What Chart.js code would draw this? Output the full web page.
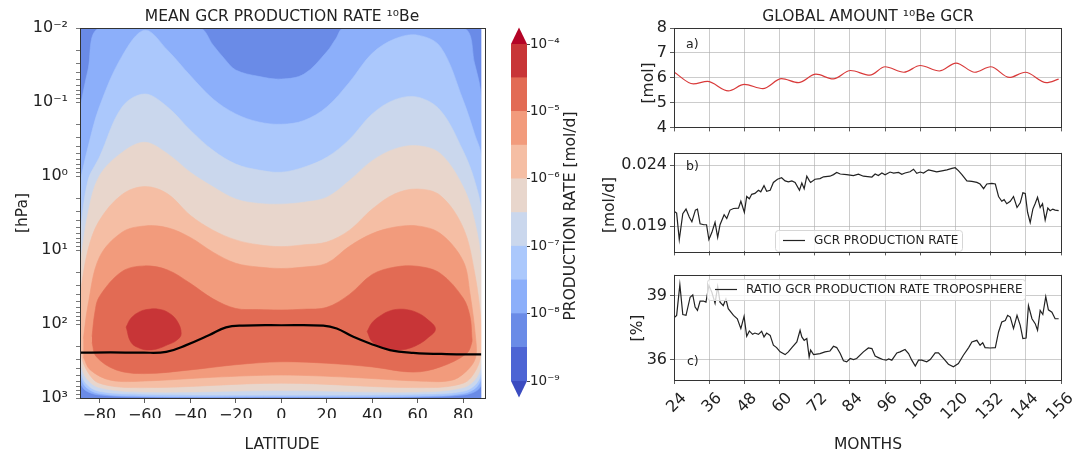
<!DOCTYPE html>
<html>
<head>
<meta charset="utf-8">
<script src="https://cdn.jsdelivr.net/npm/chart.js@4.4.1/dist/chart.umd.min.js"></script>
<style>
  body { margin: 0; background: #fff; width: 1088px; height: 454px; overflow: hidden; position: relative; }
  .box { position: absolute; }
</style>
</head>
<body>
<div class="box" style="left:0;top:0;width:490px;height:454px"><canvas id="contour"></canvas></div>
<div class="box" style="left:490px;top:0;width:110px;height:454px"><canvas id="cbar"></canvas></div>
<div class="box" style="left:600px;top:0;width:488px;height:140px"><canvas id="pa"></canvas></div>
<div class="box" style="left:600px;top:140px;width:488px;height:124px"><canvas id="pb"></canvas></div>
<div class="box" style="left:600px;top:262px;width:488px;height:192px"><canvas id="pc"></canvas></div>
<script>
// ---- contour data (latitude in deg, pressure in hPa) ----
const lat = [-88.5, -85, -80, -70, -60, -50, -40, -30, -20, -10, 0, 10, 20, 30, 40, 50, 60, 70, 80, 85, 88];
const latLow = [-88.5, -86, -80, -60, 0, 60, 80, 86, 88];

const lat1e8 = [-88.5, -85, -80, -36, -30, -25, -20, -10, 0, 10, 20, 24, 27.5, 80, 85, 88];
const top1e8 = [0.12, 0.037, 0.01, 0.01, 0.017, 0.026, 0.037, 0.045, 0.049, 0.042, 0.021, 0.014, 0.01, 0.01, 0.03, 0.095];
const bot1e8 = [631, 794, 912, 966, 977, 966, 912, 794, 631];

const top3e8 = [1.2, 0.41, 0.117, 0.024, 0.0107, 0.020, 0.044, 0.091, 0.145, 0.186, 0.20, 0.178, 0.117, 0.054, 0.022, 0.014, 0.0125, 0.018, 0.095, 0.27, 0.56];
const bot3e8 = [501, 708, 871, 944, 955, 944, 871, 708, 501];

const top1e7 = [6, 1.15, 0.56, 0.117, 0.078, 0.117, 0.24, 0.45, 0.69, 0.83, 0.89, 0.76, 0.56, 0.32, 0.145, 0.093, 0.086, 0.13, 0.46, 1.15, 3.2];
const bot1e7 = [398, 631, 813, 891, 912, 891, 813, 631, 398];

const top3e7 = [16, 3.2, 1.0, 0.48, 0.35, 0.50, 0.89, 1.4, 2.05, 2.35, 2.4, 2.26, 1.94, 1.15, 0.62, 0.43, 0.39, 0.50, 1.4, 4, 16];
const bot3e7 = [316, 525, 724, 832, 794, 832, 724, 525, 316];

const top1e6 = [40, 10, 4, 1.78, 1.39, 1.74, 3.4, 5.4, 7.3, 8.5, 9.0, 8.5, 7.8, 5.4, 2.8, 1.74, 1.5, 1.84, 5, 20, 100];
const bot1e6 = [224, 398, 631, 724, 631, 724, 631, 398, 224];

const lat3e6 = [-87, -85, -80, -70, -60, -50, -40, -30, -20, -10, 0, 10, 20, 30, 40, 50, 60, 70, 80, 83, 85.5];
const top3e6 = [158, 56, 12.6, 5.75, 4.73, 5.0, 6.76, 10.7, 15.1, 17, 17.8, 17, 15.1, 8.9, 6.0, 4.9, 4.73, 6.0, 14.1, 38.9, 158];
const latLow3e6 = [-87, -84, -75, -60, -30, 0, 30, 60, 75, 82, 85.5];
const bot3e6 = [282, 417, 575, 589, 525, 490, 525, 589, 575, 417, 282];

const lat1e5 = [-83.2, -82, -80, -70, -60, -50, -40, -30, -20, -10, 0, 10, 20, 30, 40, 50, 60, 70, 80, 83, 83.8];
const top1e5 = [148, 71, 42.7, 19.5, 16.4, 18.6, 28.2, 45.7, 61.7, 63.8, 64.6, 63.1, 59.6, 39.8, 21.4, 17.0, 16.6, 20.7, 44.7, 79.4, 148];
const latLow1e5 = [-83.2, -81.4, -72.6, -60, -40, -20, 0, 20, 40, 58, 70, 81.5, 83.8];
const bot1e5 = [178, 275, 417, 468, 417, 355, 324, 339, 380, 447, 380, 251, 178];

const latBlobS = [-68.2, -66, -62, -58, -54, -50, -46, -44];
const topBlobS = [110, 83, 67.6, 63.1, 63.1, 69.2, 89.1, 135];
const botBlobS = [110, 178, 214, 224, 214, 191, 166, 135];
const latBlobN = [37.8, 40, 44, 48, 52, 56, 60, 64, 67.8];
const topBlobN = [126, 95.5, 75.9, 66.1, 63.1, 64.6, 70.8, 85.1, 117];
const botBlobN = [126, 174, 204, 219, 224, 214, 191, 158, 117];

const tropLat = [-88.5, -75, -60.9, -50.6, -41.8, -31.6, -24.3, -16.9, 0, 18.5, 24.4, 31.7, 39, 47.8, 58, 72.7, 88];
const tropP = [244, 242, 244, 238, 193, 141, 111, 105, 104, 105, 115, 149, 183, 225, 245, 255, 257];

const latTicks = [-80, -60, -40, -20, 0, 20, 40, 60, 80];
const pressureTicks = [0.01, 0.1, 1, 10, 100, 1000];

// colour bar levels (mol/d) and band colours
const cbLevels = [1e-9, 3.16e-9, 1e-8, 3.16e-8, 1e-7, 3.16e-7, 1e-6, 3.16e-6, 1e-5, 3.16e-5, 1e-4];
const cbTicks = [1e-9, 1e-8, 1e-7, 1e-6, 1e-5, 1e-4];
const bandColors = ["#4d64d4", "#6a8be7", "#8cafFa", "#abc8fc", "#cad7ed", "#e8d6cc", "#f5bea4", "#f29b7c", "#e26b54", "#c83537"];
const underColor = "#3b4cc0";
const overColor = "#b40426";

// ---- time series ----
const monthTicks = [24, 36, 48, 60, 72, 84, 96, 108, 120, 132, 144, 156];

const monthsA = [24, 30.6, 35.4, 42.5, 48, 54.3, 60.7, 66.4, 72.4, 78.3, 84.2, 90.8, 96, 102.4, 108, 114.5, 120.2, 126.6, 132, 138.4, 143.8, 151, 155.2];
const amountA = [6.23, 5.75, 5.85, 5.47, 5.73, 5.56, 5.96, 5.80, 6.14, 5.95, 6.29, 6.10, 6.44, 6.22, 6.49, 6.27, 6.59, 6.22, 6.44, 6.01, 6.22, 5.80, 5.94];

const monthsB = [24.0, 24.9, 25.8, 27.0, 28.1, 29.2, 30.1, 31.3, 32.0, 32.9, 34.2, 35.1, 35.9, 36.9, 38.0, 38.9, 39.7, 41.1, 42.0, 43.1,
  44.3, 46.0, 46.8, 48.0, 48.8, 49.7, 50.5, 51.6, 52.8, 53.6, 54.7, 55.6, 56.8, 57.9, 59.3, 60.7, 61.9, 63.0, 64.2, 65.3,
  66.8, 67.6, 68.4, 69.3, 70.2, 70.6, 72.1, 73.8, 75.0, 77.2, 78.4, 79.5, 80.7, 82.9, 85.2, 86.9, 88.6, 91.5, 92.6, 93.7,
  94.9, 96.0, 97.7, 98.9, 100.6, 101.7, 102.8, 104.5, 105.7, 106.8, 108.0, 109.1, 110.8, 111.9, 113.6, 115.4, 117.1, 118.8, 119.9, 121.0,
  122.2, 123.9, 125.6, 127.3, 128.4, 129.6, 130.7, 132.4, 133.6, 134.7, 135.8, 136.6, 137.5, 138.7, 139.8, 141.0, 142.1, 143.0, 143.8, 144.6,
  145.5, 146.4, 147.2, 148.0, 148.9, 149.7, 150.6, 151.5, 152.3, 153.2, 154.0, 155.2];
const rateB = [0.02023, 0.02008, 0.01792, 0.02003, 0.02041, 0.01977, 0.01938, 0.02033, 0.02041, 0.01921, 0.01913, 0.01913, 0.01792, 0.01849, 0.01933, 0.01810, 0.01913, 0.01995, 0.01964, 0.02033,
  0.02046, 0.02049, 0.02105, 0.02015, 0.02144, 0.02126, 0.02162, 0.02169, 0.02195, 0.02182, 0.02233, 0.02187, 0.02195, 0.02259, 0.02285, 0.02297, 0.02272, 0.02264, 0.02272, 0.02259,
  0.02195, 0.02254, 0.02208, 0.02310, 0.02272, 0.02259, 0.02285, 0.02290, 0.02305, 0.02310, 0.02323, 0.02341, 0.02328, 0.02323, 0.02315, 0.02326, 0.02310, 0.02303, 0.02328, 0.02315,
  0.02336, 0.02321, 0.02344, 0.02336, 0.02341, 0.02326, 0.02336, 0.02346, 0.02367, 0.02333, 0.02344, 0.02336, 0.02362, 0.02356, 0.02346, 0.02354, 0.02362, 0.02374, 0.02379, 0.02356,
  0.02323, 0.02272, 0.02267, 0.02259, 0.02246, 0.02208, 0.02246, 0.02251, 0.02246, 0.02144, 0.02105, 0.02118, 0.02085, 0.02105, 0.02144, 0.02054, 0.02092, 0.02174, 0.02169, 0.02015,
  0.01931, 0.02041, 0.02087, 0.02138, 0.02054, 0.02085, 0.01951, 0.02049, 0.02028, 0.02041, 0.02033, 0.02028];

const monthsC = [24.0, 24.9, 26.0, 27.0, 28.1, 29.5, 30.4, 31.2, 32.0, 32.9, 34.0, 34.9, 35.9, 36.9, 38.0, 38.9, 39.7, 40.8, 41.7, 42.5,
  44.3, 45.6, 46.8, 47.9, 48.8, 49.7, 50.8, 51.6, 52.8, 53.9, 54.7, 55.6, 56.8, 57.9, 59.0, 60.2, 61.9, 63.0, 64.2, 65.9,
  67.0, 67.6, 68.4, 69.3, 70.1, 70.6, 71.6, 73.8, 75.5, 77.2, 78.4, 79.5, 80.7, 81.8, 82.9, 84.1, 85.2, 86.3, 88.6, 90.3,
  91.5, 92.6, 93.7, 95.2, 96.4, 97.2, 98.3, 100.0, 101.1, 102.8, 104.0, 105.1, 106.3, 107.4, 108.5, 110.2, 111.4, 113.1, 114.2, 115.9,
  117.6, 119.3, 121.0, 122.7, 124.5, 125.6, 127.3, 128.4, 129.3, 130.1, 131.8, 133.6, 134.7, 135.8, 137.0, 137.8, 138.7, 139.8, 141.0, 142.1,
  143.0, 144.1, 144.9, 146.1, 147.2, 148.0, 148.9, 149.8, 150.8, 151.7, 152.9, 154.0, 155.2];
const ratioC = [37.96, 38.07, 39.51, 38.11, 38.07, 38.92, 39.03, 38.46, 38.30, 38.74, 38.74, 38.69, 39.47, 39.16, 38.64, 39.42, 38.69, 38.53, 38.84, 38.38,
  38.07, 37.91, 37.45, 38.02, 37.09, 37.34, 37.18, 37.24, 37.18, 37.32, 37.06, 37.24, 37.13, 36.67, 36.56, 36.36, 36.23, 36.36, 36.56, 36.82,
  37.37, 37.06, 36.90, 36.98, 36.12, 36.44, 36.23, 36.28, 36.36, 36.40, 36.62, 36.56, 36.28, 35.94, 35.89, 36.05, 36.00, 36.05, 36.36, 36.54,
  36.51, 36.16, 36.09, 36.00, 35.97, 36.03, 35.97, 36.31, 36.36, 36.47, 36.28, 35.97, 35.69, 35.97, 35.97, 35.89, 36.00, 36.31, 36.31, 36.05,
  35.78, 35.66, 35.81, 36.20, 36.56, 36.82, 36.90, 36.67, 36.79, 36.56, 36.54, 36.56, 37.29, 37.76, 37.83, 38.07, 37.99, 37.45, 38.07, 37.60,
  36.98, 37.01, 38.53, 37.91, 37.68, 37.37, 38.30, 38.11, 38.95, 38.33, 38.22, 37.91, 37.91];

// ---- helpers ----
Chart.defaults.font.family = '"DejaVu Sans", sans-serif';
Chart.defaults.color = "#222";
Chart.defaults.animation = false;
Chart.defaults.maintainAspectRatio = false;
Chart.defaults.plugins.legend.display = false;
Chart.defaults.plugins.tooltip.enabled = false;

const gridColor = "rgba(170,170,170,0.75)";
const sup = { "-": "\u207B", "0": "\u2070", "1": "\u00B9", "2": "\u00B2", "3": "\u00B3", "4": "\u2074", "5": "\u2075", "6": "\u2076", "7": "\u2077", "8": "\u2078", "9": "\u2079" };
const pow10 = v => "10" + String(Math.round(Math.log10(v))).split("").map(c => sup[c]).join("");
const minus = v => (v < 0 ? "\u2212" + Math.abs(v) : String(v));

function shape(topLat, topP, botLat, botP) {
  const pts = topLat.map((x, i) => ({ x, y: topP[i] }));
  for (let i = botLat.length - 1; i >= 0; i--) {
    const last = pts[pts.length - 1];
    if (last.x === botLat[i] && last.y === botP[i]) continue;
    pts.push({ x: botLat[i], y: botP[i] });
  }
  return pts;
}
const band = (pts, color, tension) => ({
  data: pts, fill: "shape", backgroundColor: color, borderColor: color,
  borderWidth: 0.6, pointRadius: 0, tension: tension === undefined ? 0.35 : tension
});

const textPlugin = {
  id: "texts",
  afterDraw(chart, args, opts) {
    const ctx = chart.ctx;
    (opts.items || []).forEach(t => {
      ctx.save();
      ctx.font = t.font;
      ctx.fillStyle = "#222";
      ctx.textAlign = t.align || "center";
      ctx.textBaseline = "middle";
      ctx.translate(t.x, t.y);
      if (t.rot) ctx.rotate(t.rot);
      ctx.fillText(t.text, 0, 0);
      ctx.restore();
    });
  }
};
const framePlugin = {
  id: "frame",
  afterDraw(chart) {
    const { left, top, right, bottom } = chart.chartArea;
    const ctx = chart.ctx;
    ctx.save();
    ctx.strokeStyle = "#333";
    ctx.lineWidth = 1;
    ctx.strokeRect(Math.round(left) + 0.5, Math.round(top) + 0.5, Math.round(right - left), Math.round(bottom - top));
    ctx.restore();
  }
};
// white strip between the last model latitude and the right axis edge
const edgePlugin = {
  id: "edge",
  afterDatasetsDraw(chart) {
    const x = chart.scales.x.getPixelForValue(lat[lat.length - 1]);
    const { top, right, bottom } = chart.chartArea;
    chart.ctx.save();
    chart.ctx.fillStyle = "#fff";
    chart.ctx.fillRect(x, top, right - x, bottom - top);
    chart.ctx.restore();
  }
};
const legendPlugin = {
  id: "legendBox",
  afterDraw(chart, args, o) {
    if (!o.x) return;
    const ctx = chart.ctx, ds = chart.data.datasets[0];
    ctx.save();
    ctx.beginPath();
    ctx.roundRect(o.x + 0.5, o.y + 0.5, o.w, o.h, 3);
    ctx.fillStyle = "rgba(255,255,255,0.8)";
    ctx.fill();
    ctx.strokeStyle = "#d6d6d6";
    ctx.lineWidth = 1;
    ctx.stroke();
    ctx.beginPath();
    ctx.moveTo(o.x + 8, o.y + o.h / 2);
    ctx.lineTo(o.x + 30, o.y + o.h / 2);
    ctx.strokeStyle = ds.borderColor;
    ctx.lineWidth = 1.2;
    ctx.stroke();
    ctx.font = "12px 'DejaVu Sans'";
    ctx.fillStyle = "#222";
    ctx.textBaseline = "middle";
    ctx.fillText(ds.label, o.x + 39, o.y + o.h / 2 + 0.5);
    ctx.restore();
  }
};
const extendPlugin = {
  id: "extend",
  afterDatasetsDraw(chart) {
    const { left, top, right, bottom } = chart.chartArea;
    const ctx = chart.ctx, mid = (left + right) / 2, h = 16.5;
    ctx.save();
    ctx.fillStyle = overColor;
    ctx.beginPath(); ctx.moveTo(left, top); ctx.lineTo(right, top); ctx.lineTo(mid, top - h); ctx.closePath(); ctx.fill();
    ctx.fillStyle = underColor;
    ctx.beginPath(); ctx.moveTo(left, bottom); ctx.lineTo(right, bottom); ctx.lineTo(mid, bottom + h); ctx.closePath(); ctx.fill();
    ctx.restore();
  }
};

// ---- left: contour plot ----
const layers = [
  band(shape([lat[0], lat[lat.length - 1]], [0.01, 0.01], [lat[0], lat[lat.length - 1]], [1000, 1000]), bandColors[1], 0),
  band(shape(lat1e8, top1e8, latLow, bot1e8), bandColors[2]),
  band(shape(lat, top3e8, latLow, bot3e8), bandColors[3]),
  band(shape(lat, top1e7, latLow, bot1e7), bandColors[4]),
  band(shape(lat, top3e7, latLow, bot3e7), bandColors[5]),
  band(shape(lat, top1e6, latLow, bot1e6), bandColors[6]),
  band(shape(lat3e6, top3e6, latLow3e6, bot3e6), bandColors[7]),
  band(shape(lat1e5, top1e5, latLow1e5, bot1e5), bandColors[8]),
  band(shape(latBlobS, topBlobS, latBlobS, botBlobS), bandColors[9], 0.4),
  band(shape(latBlobN, topBlobN, latBlobN, botBlobN), bandColors[9], 0.4),
  {
    data: tropLat.map((x, i) => ({ x, y: tropP[i] })), borderColor: "#000", borderWidth: 2.2,
    pointRadius: 0, fill: false, tension: 0.4
  }
].reverse();

const minorP = [];
pressureTicks.slice(0, -1).forEach(d => { for (let k = 2; k < 10; k++) minorP.push(d * k); });

new Chart(document.getElementById("contour"), {
  type: "line",
  data: { datasets: layers },
  options: {
    layout: { padding: { left: 0, top: 28, right: 5, bottom: 36 } },
    plugins: {
      texts: {
        items: [
          { text: "MEAN GCR PRODUCTION RATE \u00B9\u2070Be", x: 282, y: 17, font: "15.5px 'DejaVu Sans'" },
          { text: "[hPa]", x: 23, y: 213, font: "15.5px 'DejaVu Sans'", rot: -Math.PI / 2 },
          { text: "LATITUDE", x: 282, y: 445, font: "15.5px 'DejaVu Sans'" }
        ]
      }
    },
    scales: {
      x: {
        type: "linear", min: -88.5, max: 89.6, z: 1,
        afterFit: s => { s.height = 20; },
        afterBuildTicks: s => { s.ticks = latTicks.map(v => ({ value: v })); },
        ticks: { callback: v => minus(v), font: { size: 16 }, padding: 3, maxRotation: 0, autoSkip: false },
        grid: { color: gridColor, lineWidth: 0.8, tickLength: 5, tickColor: "#333" },
        border: { display: false }
      },
      y: {
        type: "logarithmic", reverse: true, min: 0.01, max: 1000, z: 1,
        afterFit: s => { s.width = 80; },
        afterBuildTicks: s => {
          s.ticks = pressureTicks.map(v => ({ value: v, major: true }))
            .concat(minorP.map(v => ({ value: v, major: false })));
        },
        ticks: { callback: (v, i, t) => (t[i].major ? pow10(v) : ""), font: { size: 16 }, padding: 8, autoSkip: false },
        grid: {
          color: c => (c.tick && c.tick.major ? gridColor : "rgba(0,0,0,0)"),
          tickColor: "#555", lineWidth: 0.8, tickLength: 4
        },
        border: { display: false }
      }
    }
  },
  plugins: [edgePlugin, framePlugin, textPlugin]
});

// ---- colour bar ----
new Chart(document.getElementById("cbar"), {
  type: "bar",
  data: {
    labels: [""],
    datasets: bandColors.map((c, i) => ({
      data: [[cbLevels[i], cbLevels[i + 1]]], backgroundColor: c, borderWidth: 0,
      barPercentage: 1, categoryPercentage: 1, grouped: false
    }))
  },
  options: {
    layout: { padding: { left: 21, top: 44, right: 28, bottom: 73 } },
    plugins: {
      texts: {
        items: [{ text: "PRODUCTION RATE [mol/d]", x: 81, y: 216, font: "15.5px 'DejaVu Sans'", rot: -Math.PI / 2 }]
      }
    },
    scales: {
      x: { display: false },
      y: {
        type: "logarithmic", position: "right", min: 1e-9, max: 1e-4,
        afterFit: s => { s.width = 45; },
        afterBuildTicks: s => { s.ticks = cbTicks.map(v => ({ value: v })); },
        ticks: { callback: v => pow10(v), font: { size: 13.5 }, padding: 0, autoSkip: false },
        grid: { drawOnChartArea: false, tickLength: 3, tickColor: "#444" },
        border: { display: false }
      }
    }
  },
  plugins: [extendPlugin, textPlugin]
});

// ---- right: time series ----
function monthAxis(labels, height) {
  return {
    type: "linear", min: 24, max: 156,
    afterFit: s => { s.height = height; },
    afterBuildTicks: s => { s.ticks = monthTicks.map(v => ({ value: v })); },
    ticks: { display: labels, maxRotation: 45, minRotation: 45, autoSkip: false, font: { size: 16 }, padding: 5, labelOffset: 10 },
    grid: { color: gridColor, lineWidth: 0.8, tickLength: 4, tickColor: "#333" },
    border: { display: false }
  };
}
function valueAxis(min, max, ticks, fmt) {
  return {
    min, max,
    afterFit: s => { s.width = 74; },
    afterBuildTicks: s => { s.ticks = ticks.map(v => ({ value: v })); },
    ticks: { callback: fmt, font: { size: 16 }, padding: 3, autoSkip: false },
    grid: { color: gridColor, lineWidth: 0.8, tickLength: 4, tickColor: "#333" },
    border: { display: false }
  };
}
const series = (xs, ys, label, color, extra) => Object.assign({
  label, data: xs.map((x, i) => ({ x, y: ys[i] })), borderColor: color, borderWidth: 1.2,
  pointRadius: 0, fill: false, tension: 0
}, extra || {});

new Chart(document.getElementById("pa"), {
  type: "line",
  data: { datasets: [series(monthsA, amountA, "GLOBAL AMOUNT", "#d93a3a", { cubicInterpolationMode: "monotone" })] },
  options: {
    layout: { padding: { left: 0, top: 28, right: 27, bottom: 1 } },
    plugins: {
      texts: {
        items: [
          { text: "GLOBAL AMOUNT \u00B9\u2070Be GCR", x: 268, y: 17, font: "15.5px 'DejaVu Sans'" },
          { text: "[mol]", x: 49, y: 83, font: "15.5px 'DejaVu Sans'", rot: -Math.PI / 2 },
          { text: "a)", x: 86, y: 45, font: "12.5px 'DejaVu Sans'", align: "left" }
        ]
      }
    },
    scales: { x: monthAxis(false, 5), y: valueAxis(4, 8, [4, 5, 6, 7, 8], v => String(v)) }
  },
  plugins: [framePlugin, textPlugin]
});

new Chart(document.getElementById("pb"), {
  type: "line",
  data: { datasets: [series(monthsB, rateB, "GCR PRODUCTION RATE", "#222")] },
  options: {
    layout: { padding: { left: 0, top: 12, right: 27, bottom: 2 } },
    plugins: {
      texts: {
        items: [
          { text: "[mol/d]", x: 10, y: 65, font: "15.5px 'DejaVu Sans'", rot: -Math.PI / 2 },
          { text: "b)", x: 86, y: 27, font: "12.5px 'DejaVu Sans'", align: "left" }
        ]
      },
      legendBox: { x: 175, y: 90, w: 187, h: 21 }
    },
    scales: { x: monthAxis(false, 5), y: valueAxis(0.01695, 0.02503, [0.019, 0.024], v => v.toFixed(3)) }
  },
  plugins: [framePlugin, textPlugin, legendPlugin]
});

new Chart(document.getElementById("pc"), {
  type: "line",
  data: { datasets: [series(monthsC, ratioC, "RATIO GCR PRODUCTION RATE TROPOSPHERE", "#222")] },
  options: {
    layout: { padding: { left: 0, top: 12, right: 27, bottom: 34 } },
    plugins: {
      texts: {
        items: [
          { text: "[%]", x: 38, y: 66, font: "15.5px 'DejaVu Sans'", rot: -Math.PI / 2 },
          { text: "c)", x: 87, y: 100, font: "12.5px 'DejaVu Sans'", align: "left" },
          { text: "MONTHS", x: 268, y: 183, font: "15.5px 'DejaVu Sans'" }
        ]
      },
      legendBox: { x: 107, y: 17, w: 318, h: 21 }
    },
    scales: { x: monthAxis(true, 40), y: valueAxis(35.04, 39.98, [36, 39], v => String(v)) }
  },
  plugins: [framePlugin, textPlugin, legendPlugin]
});
</script>
</body>
</html>
